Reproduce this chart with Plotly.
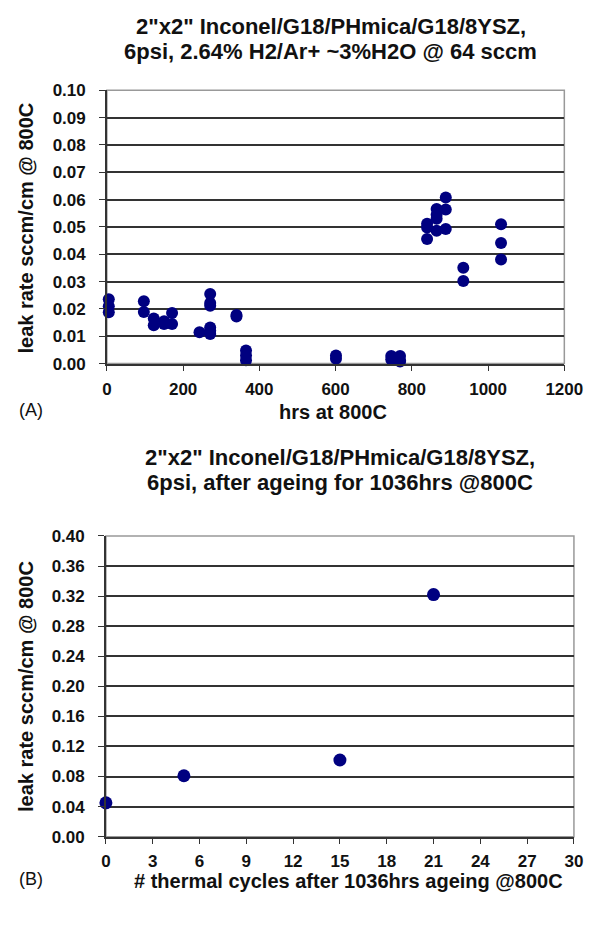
import plotly.graph_objects as go

# ---- Data (A): leak rate vs hours at 800C ----
hrs_a = [5, 5, 5, 97, 97, 123, 123, 150, 150, 171, 171, 243,
         271, 271, 271, 271, 271, 271, 340, 340, 365, 365, 365,
         601, 601, 746, 746, 769, 769, 769,
         840, 840, 840, 865, 865, 865, 865, 889, 889, 889,
         935, 935, 1034, 1034, 1034]
leak_a = [0.0235, 0.0210, 0.0188, 0.0228, 0.0189, 0.0165, 0.0140, 0.0155, 0.0145, 0.0185, 0.0145, 0.0115,
          0.0255, 0.0222, 0.0212, 0.0132, 0.0120, 0.0108, 0.0178, 0.0172, 0.0048, 0.0030, 0.0012,
          0.0030, 0.0018, 0.0028, 0.0015, 0.0028, 0.0012, 0.0008,
          0.0512, 0.0498, 0.0456, 0.0566, 0.0545, 0.0530, 0.0486, 0.0608, 0.0564, 0.0492,
          0.0351, 0.0302, 0.0510, 0.0441, 0.0381]

# ---- Data (B): leak rate vs thermal cycles ----
cycles_b = [0, 5, 15, 21]
leak_b = [0.045, 0.081, 0.102, 0.322]

yticks_a = [i / 100 for i in range(0, 11)]
xticks_a = [0, 200, 400, 600, 800, 1000, 1200]
yticks_b = [i * 0.04 for i in range(0, 11)]
xticks_b = list(range(0, 31, 3))

W, H = 616, 926
FONT = "Liberation Sans, Arial, sans-serif"
NAVY = "#000080"
GRID = "#333333"

def px(x):
    return x / W

def py(y):
    return 1 - y / H

fig = go.Figure()
fig.add_trace(go.Scatter(x=hrs_a, y=leak_a, mode="markers", xaxis="x", yaxis="y",
                         marker=dict(color=NAVY, size=12), cliponaxis=False, showlegend=False))
fig.add_trace(go.Scatter(x=cycles_b, y=leak_b, mode="markers", xaxis="x2", yaxis="y2",
                         marker=dict(color=NAVY, size=13), cliponaxis=False, showlegend=False))

axis_common = dict(showline=True, linecolor="#333333", linewidth=1.5, ticks="outside",
                   ticklen=6, tickcolor="#333333", tickwidth=1.3, zeroline=False,
                   tickfont=dict(family=FONT, size=17, color="#111111", weight="bold"))

fig.update_layout(
    width=W, height=H, margin=dict(l=0, r=0, t=0, b=0),
    paper_bgcolor="white", plot_bgcolor="white",
    xaxis=dict(domain=[px(106), px(582)], anchor="y", range=[0, 1200],
               tickvals=xticks_a, showgrid=False, ticklabelstandoff=3, **axis_common),
    yaxis=dict(domain=[py(362), py(83)], anchor="x", range=[0, 0.10],
               tickvals=yticks_a, tickformat=".2f", showgrid=True, gridcolor=GRID,
               gridwidth=1.6, ticklabelstandoff=10, **axis_common),
    xaxis2=dict(domain=[px(105), px(592)], anchor="y2", range=[0, 30],
                tickvals=xticks_b, showgrid=False, ticklabelstandoff=2, **axis_common),
    yaxis2=dict(domain=[py(845), py(538)], anchor="x2", range=[0, 0.40],
                tickvals=yticks_b, tickformat=".2f", showgrid=True, gridcolor=GRID,
                gridwidth=1.6, ticklabelstandoff=10, **axis_common),
)

# light gray top/right border
for xr, yr in (("x domain", "y domain"), ("x2 domain", "y2 domain")):
    fig.add_shape(type="rect", xref=xr, yref=yr, x0=0, x1=1, y0=0, y1=1,
                  line=dict(color="#999999", width=1.5), layer="below")

def txt(x, y, s, size, bold=True, angle=0, xanchor="center"):
    fig.add_annotation(x=px(x), y=py(y), xref="paper", yref="paper", text=(f"<b>{s}</b>" if bold else s),
                       showarrow=False, xanchor=xanchor, yanchor="middle", textangle=angle,
                       font=dict(family=FONT, size=size, color="#111111"))

txt(339, 18, '2"x2" Inconel/G18/PHmica/G18/8YSZ,', 22)
txt(339, 43, '6psi, 2.64% H2/Ar+ ~3%H2O @ 64 sccm', 22)
txt(22, 224, 'leak rate sccm/cm @ 800C', 20, angle=-90)
txt(341, 411, 'hrs at 800C', 20)
txt(13, 409, '(A)', 18, bold=False, xanchor="left")

txt(349, 458, '2"x2" Inconel/G18/PHmica/G18/8YSZ,', 22)
txt(349, 483, '6psi, after ageing for 1036hrs @800C', 22)
txt(22, 692, 'leak rate sccm/cm @ 800C', 20, angle=-90)
txt(357, 890, '# thermal cycles after 1036hrs ageing @800C', 20)
txt(13, 888, '(B)', 18, bold=False, xanchor="left")

fig.write_html("out.html")
